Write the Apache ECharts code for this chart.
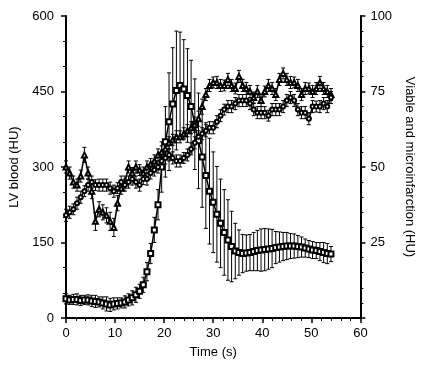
<!DOCTYPE html>
<html>
<head>
<meta charset="utf-8">
<script src="https://cdn.jsdelivr.net/npm/echarts@6/dist/echarts.min.js"></script>
<style>html,body{margin:0;padding:0;background:#fff}#c{width:424px;height:369px}</style>
</head>
<body>
<div id="c"></div>
<script>
const times = [0,0.75,1.5,2.25,3,3.75,4.5,5.25,6,6.75,7.5,8.25,9,9.75,10.5,11.25,12,12.75,13.5,14.25,15,15.75,16.5,17.25,18,18.75,19.5,20.25,21,21.75,22.5,23.25,24,24.75,25.5,26.25,27,27.75,28.5,29.25,30,30.75,31.5,32.25,33,33.75,34.5,35.25,36,36.75,37.5,38.25,39,39.75,40.5,41.25,42,42.75,43.5,44.25,45,45.75,46.5,47.25,48,48.75,49.5,50.25,51,51.75,52.5,53.25,54];

const lvBlood = [38,36,37,37,35,36,36,34,33,32,
  30,28,26,28,29,30,32,36,40,46,
  53,66,92,128,175,225,300,350,390,425,
  452,462,455,442,420,385,352,320,283,252,
  230,206,188,170,155,142,133,130,128,129,
  130,132,134,135,136,137,138,140,141,142,
  143,143,143,142,141,139,137,135,134,132,
  130,128,127];
const lvBloodErr = [10,9,10,11,10,9,10,11,12,10,
  12,14,13,12,11,10,12,12,14,15,
  14,15,18,20,25,30,50,70,97,112,
  118,106,98,93,92,90,95,100,105,105,
  100,95,88,85,80,70,55,45,38,36,
  36,38,40,42,42,40,38,32,30,28,
  27,25,24,22,20,18,17,17,16,18,
  20,20,15];

const viable = [50,48,45,44,47,54,48,42,32,36,
  35,34,32,30,38,43,45,50,48,50,
  49,48,50,51,52,54,55,56,58,59,
  60,60,61,62,63,64,66,70,74,77,
  78,78,77,77,79,77,76,80,77,76,
  75,73,75,72,75,77,76,74,79,81,
  79,78,78,77,74,76,76,75,76,78,
  76,75,74];
const viableErr = [2,2,2,2,2,2.5,2,2.5,3,2.5,
  2.5,2.5,3,3,2.5,2,2,2,1.8,2,
  1.8,2,2,1.8,2,2,2,2,2,1.8,
  2,2,2,2,2,2.5,2.5,2.5,2,2,
  1.8,2,2,1.8,2,2,1.8,2,2,2,
  2,1.8,2,2,1.8,2,2,2,2,1.8,
  2,2,1.8,2,2,2,1.8,2,2,2,
  2,2,2];

const micro = [34,35,36,38,40,42,44,45,44,44,
  44,44,43,42,43,45,44,45,46,45,
  44,46,46,48,49,50,52,53,54,53,
  52,52,53,54,56,58,60,61,62,63,
  63,65,67,69,70,70,71,72,72,72,
  71,69,68,68,68,67,69,69,69,70,
  72,73,72,69,68,68,66,70,70,70,
  71,70,73];
const microErr = [2,2,1.8,2,2,1.8,2,2,1.8,2,
  2,2,2,2,1.8,2,2,2,2,2,
  2,1.8,2,2,2,2,2,2,2,2,
  2,2,1.8,2,2,2,2,2,2,2,
  2,2,2,1.8,2,2,2,2,2,2,
  2,2,2,2,2,1.8,2,2,2,2,
  2,2,2,2,2,2,2,2,1.8,2,
  2,2,2];

const FONT = '"Liberation Sans", Arial, sans-serif';

function pts(v) { return times.map((t, i) => [t, v[i]]); }
function errs(v, e) { return times.map((t, i) => [t, v[i] - e[i], v[i] + e[i]]); }

function errRender(params, api) {
  const x = api.value(0);
  const p1 = api.coord([x, api.value(2)]);
  const p2 = api.coord([x, api.value(1)]);
  const w = 2;
  const st = { stroke: '#000', lineWidth: 1 };
  return { type: 'group', children: [
    { type: 'line', shape: { x1: p1[0], y1: p1[1], x2: p2[0], y2: p2[1] }, style: st },
    { type: 'line', shape: { x1: p1[0] - w, y1: p1[1], x2: p1[0] + w, y2: p1[1] }, style: st },
    { type: 'line', shape: { x1: p2[0] - w, y1: p2[1], x2: p2[0] + w, y2: p2[1] }, style: st }
  ]};
}

function errSeries(v, e, yi) {
  return { type: 'custom', yAxisIndex: yi, renderItem: errRender, data: errs(v, e),
    encode: { x: 0, y: [1, 2] }, z: 1, silent: true };
}
function lineSeries(name, v, yi, sym, size) {
  return { name: name, type: 'line', yAxisIndex: yi, data: pts(v), symbol: sym, symbolSize: size,
    showAllSymbol: true, lineStyle: { color: '#000', width: 1.5 },
    itemStyle: { color: '#000', borderColor: '#000', borderWidth: 1.1 }, z: 3 };
}

const axisCommon = {
  axisLine: { show: true, onZero: false, lineStyle: { color: '#000', width: 2 } },
  axisTick: { show: true, length: 5, lineStyle: { color: '#000', width: 1.5 } },
  minorTick: { show: true, length: 3, lineStyle: { color: '#000', width: 1 } },
  splitLine: { show: false },
  axisLabel: { color: '#000', fontSize: 13, fontFamily: FONT, margin: 10 },
  nameTextStyle: { color: '#000', fontSize: 13, fontFamily: FONT }
};

const chart = echarts.init(document.getElementById('c'));
chart.setOption({
  animation: false,
  backgroundColor: '#fff',
  grid: { left: 66, right: 60, top: 16, bottom: 51 },
  xAxis: Object.assign({}, axisCommon, {
    type: 'value', min: 0, max: 60, interval: 10,
    minorTick: Object.assign({}, axisCommon.minorTick, { splitNumber: 5 }),
    axisLabel: Object.assign({}, axisCommon.axisLabel, { margin: 9 }),
    name: 'Time (s)', nameLocation: 'middle', nameGap: 28
  }),
  yAxis: [
    Object.assign({}, axisCommon, {
      type: 'value', position: 'left', min: 0, max: 600, interval: 150,
      minorTick: Object.assign({}, axisCommon.minorTick, { splitNumber: 3 }),
      axisLabel: Object.assign({}, axisCommon.axisLabel, { margin: 12 }),
      name: 'LV blood (HU)', nameLocation: 'middle', nameGap: 42
    }),
    Object.assign({}, axisCommon, {
      type: 'value', position: 'right', min: 0, max: 100, interval: 25,
      minorTick: Object.assign({}, axisCommon.minorTick, { splitNumber: 5 }),
      axisLabel: Object.assign({}, axisCommon.axisLabel, { margin: 10, formatter: v => v === 0 ? '' : String(v) }),
      name: 'Viable and microinfarction (HU)', nameLocation: 'middle', nameGap: 40, nameRotate: -90
    })
  ],
  series: [
    errSeries(lvBlood, lvBloodErr, 0),
    errSeries(viable, viableErr, 1),
    errSeries(micro, microErr, 1),
    lineSeries('LV blood', lvBlood, 0, 'emptyRect', 5),
    lineSeries('Viable', viable, 1, 'emptyTriangle', 5),
    lineSeries('Microinfarction', micro, 1, 'emptyCircle', 4)
  ]
});
</script>
</body>
</html>
